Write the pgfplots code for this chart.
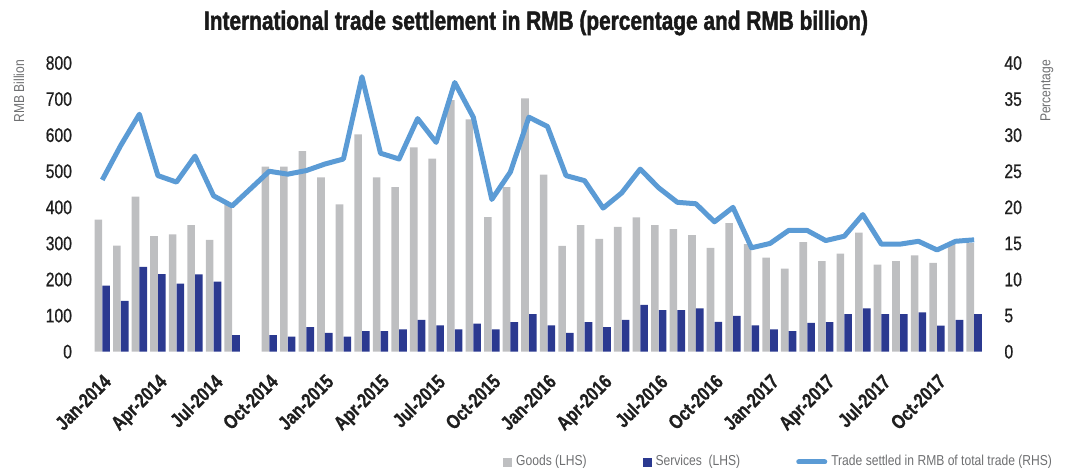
\documentclass[border=0pt]{standalone}
\usepackage{pgfplots}
\pgfplotsset{compat=1.18}
\usepackage{pgfplotstable}
\usepackage{fontspec}
\setmainfont{Liberation Sans}[FakeStretch=0.84]
\newfontfamily\titlefont{Liberation Sans Bold}[FakeStretch=0.79,FakeBold=1.6]
\newfontfamily\tickfont{Liberation Sans}[FakeStretch=0.80,FakeBold=0.7]
\newfontfamily\xtickfont{Liberation Sans Bold}[FakeStretch=0.80,FakeBold=0.6]

\definecolor{goodsgray}{RGB}{190,191,193}
\definecolor{servnavy}{RGB}{43,57,144}
\definecolor{shareblue}{RGB}{91,155,213}
\definecolor{labgray}{RGB}{110,111,113}

% month index (Sep-2014 has no data)
\pgfplotstableread{
idx goods services pct
0  366 183 23.8
1  294 141 28.6
2  430 235 32.9
3  320 215 24.4
4  325 189 23.5
5  351 214 27.1
6  310 194 21.6
7  410 46  20.2
9  513 46  25.0
10 513 42  24.6
11 556 68  25.1
12 483 52  26.0
13 408 42  26.7
14 602 57  38.1
15 483 57  27.5
16 456 62  26.7
17 566 88  32.3
18 535 73  29.0
19 697 62  37.3
20 644 78  32.5
21 373 62  21.1
22 456 82  24.9
23 702 104 32.5
24 491 73  31.2
25 293 52  24.4
26 351 82  23.7
27 313 68  19.9
28 346 88  22.0
29 372 130 25.3
30 351 115 22.7
31 340 115 20.7
32 323 120 20.5
33 288 83  18.0
34 356 99  20.0
35 298 73  14.4
36 261 62  15.0
37 230 57  16.8
38 304 80  16.8
39 251 82  15.4
40 272 104 16.0
41 330 120 19.0
42 241 104 14.9
43 251 104 14.9
44 267 109 15.3
45 246 72  14.1
46 298 88  15.3
47 301 104 15.5
}\tradedata

\pgfplotsset{
  base/.style={
    width=445.2pt, height=144.35pt, scale only axis,
    at={(46.5pt,60.65pt)}, anchor=south west,
    xmin=-0.5, xmax=47.5,
    axis line style={draw=none}, major tick length=0pt,
    /pgf/number format/assume math mode=true,
    tick label style={font=\tickfont\fontsize{9.8}{10}\selectfont, text=black!88},
  }
}

\begin{document}
\begin{tikzpicture}
\path[use as bounding box] (0,0) rectangle (536pt,236.5pt);

\begin{axis}[base,
  ymin=0, ymax=800, ytick={0,100,...,800},
  yticklabel style={xshift=-7pt},
  xtick={0,3,...,45},
  xticklabels={Jan-2014,Apr-2014,Jul-2014,Oct-2014,Jan-2015,Apr-2015,Jul-2015,Oct-2015,
    Jan-2016,Apr-2016,Jul-2016,Oct-2016,Jan-2017,Apr-2017,Jul-2017,Oct-2017},
  xticklabel style={yshift=-9pt, xshift=0pt, rotate=45, anchor=north east,
    font=\xtickfont\fontsize{10}{11}\selectfont, inner sep=1pt},
  ybar, bar width=3.8pt,
]
\addplot[fill=goodsgray, draw=none, bar shift=-1.95pt] table[x=idx, y=goods] {\tradedata};
\addplot[fill=servnavy, draw=none, bar shift=1.95pt] table[x=idx, y=services] {\tradedata};
\end{axis}

\begin{axis}[base,
  axis x line=none, axis y line*=right,
  ymin=0, ymax=40, ytick={0,5,...,40},
  yticklabel style={xshift=7pt},
  legend columns=3,
  legend style={at={(0.4537,-0.382)}, anchor=west, draw=none, fill=none,
    font=\fontsize{7.2}{8}\selectfont, text=labgray,
    /tikz/every even column/.append style={column sep=26pt}},
  legend cell align=left,
]
\addlegendimage{legend image code/.code={\fill[goodsgray] (0pt,-2pt) rectangle (4pt,2pt);}}
\addlegendentry{Goods (LHS)}
\addlegendimage{legend image code/.code={\fill[servnavy] (0pt,-2pt) rectangle (4pt,2pt);}}
\addlegendentry{Services~ (LHS)}
\addplot[color=shareblue, line width=2.5pt, line join=round, mark=none,
  legend image code/.code={\draw[shareblue, line width=2.5pt, line cap=round] (0pt,0pt) -- (13pt,0pt);}]
  table[x=idx, y=pct] {\tradedata};
\addlegendentry{Trade settled in RMB of total trade (RHS)}
\end{axis}

\node[font=\titlefont\fontsize{13.2}{15}\selectfont, text=black!90] at (268pt,225pt)
  {International trade settlement in RMB (percentage and RMB billion)};
\node[rotate=90, anchor=east, text=labgray, font=\fontsize{7.2}{8}\selectfont] at (9.5pt,210pt) {RMB Billion};
\node[rotate=90, anchor=east, text=labgray, font=\fontsize{7.2}{8}\selectfont] at (523.5pt,210pt) {Percentage};
\end{tikzpicture}
\end{document}
